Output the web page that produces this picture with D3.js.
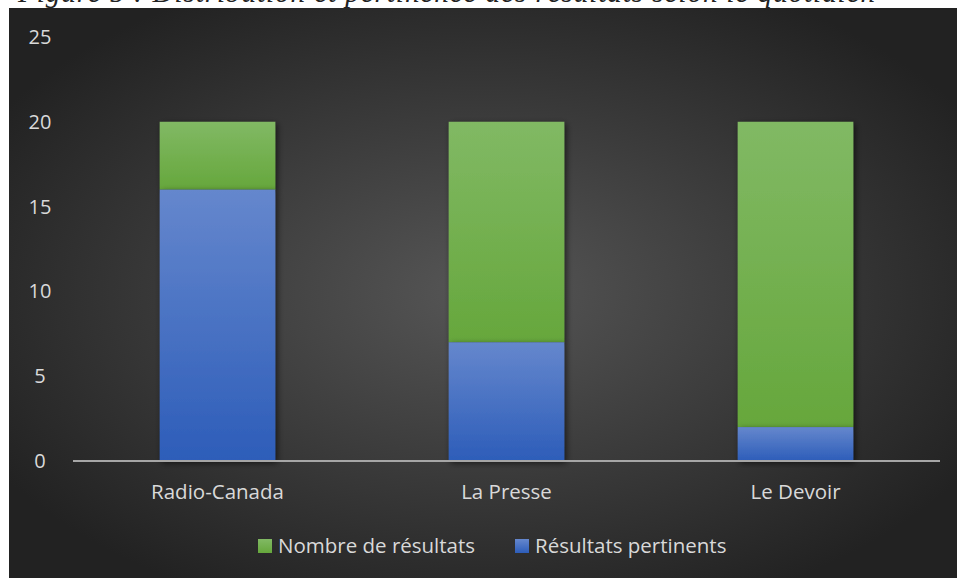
<!DOCTYPE html>
<html>
<head>
<meta charset="utf-8">
<script src="https://cdn.jsdelivr.net/npm/d3@7"></script>
<style>
  body { margin: 0; background: #fff; }
  svg { display: block; }
</style>
</head>
<body>
<div class="canvas"></div>
<script>
const categories = ['Radio-Canada', 'La Presse', 'Le Devoir'];
const pertinents = [16, 7, 2];
const nombre = [20, 20, 20];
const yTicks = [0, 5, 10, 15, 20, 25];
const seriesNames = ['Nombre de résultats', 'Résultats pertinents'];

const W = 957, H = 579;
const bg = {x: 9, y: 8, w: 948, h: 570};
const plot = {left: 73, right: 940, top: 37, bottom: 461};

const svg = d3.select('.canvas')
    .append('svg')
    .attr('width', W)
    .attr('height', H);

const defs = svg.append('defs');

const rg = defs.append('radialGradient')
    .attr('id', 'bg')
    .attr('cx', '50%').attr('cy', '50%').attr('r', '60%');
rg.append('stop').attr('offset', '0%').attr('stop-color', '#565656');
rg.append('stop').attr('offset', '100%').attr('stop-color', '#222');

const grad = (id, top, bottom) => {
    const g = defs.append('linearGradient')
        .attr('id', id)
        .attr('x1', 0).attr('y1', 0).attr('x2', 0).attr('y2', 1);
    g.append('stop').attr('offset', '0%').attr('stop-color', top);
    g.append('stop').attr('offset', '100%').attr('stop-color', bottom);
};
grad('green', '#81b964', '#66a73c');
grad('blue', '#6587cd', '#2d5db9');

const shadow = defs.append('filter')
    .attr('id', 'shadow')
    .attr('x', '-20%').attr('y', '-20%').attr('width', '140%').attr('height', '140%');
shadow.append('feDropShadow')
    .attr('dx', 2).attr('dy', 2).attr('stdDeviation', 3)
    .attr('flood-color', '#000').attr('flood-opacity', 0.6);

// title, only its lower part shows above the chart area
svg.append('text')
    .attr('x', 18)
    .attr('y', 2)
    .attr('font-family', 'Liberation Serif')
    .attr('font-style', 'italic')
    .attr('font-size', 29)
    .attr('fill', '#222')
    .attr('textLength', 857)
    .text('Figure 5 : Distribution et pertinence des résultats selon le quotidien');

svg.append('rect')
    .attr('x', bg.x).attr('y', bg.y)
    .attr('width', bg.w).attr('height', bg.h)
    .attr('fill', 'url(#bg)');

const x = d3.scaleBand()
    .domain(categories)
    .range([plot.left, plot.right])
    .paddingInner(0.6)
    .paddingOuter(0.3);

const y = d3.scaleLinear()
    .domain([0, 25])
    .range([plot.bottom, plot.top]);

const font = "'Open Sans', 'Noto Sans', sans-serif";

// y tick labels
svg.append('g')
    .selectAll('text')
    .data(yTicks)
    .enter()
    .append('text')
    .attr('x', 40)
    .attr('y', d => y(d))
    .attr('dy', '0.35em')
    .attr('text-anchor', 'middle')
    .attr('font-family', font)
    .attr('font-size', 20)
    .attr('fill', '#d9d9d9')
    .text(d => d);

const bars = svg.append('g');

// green: from top of blue to total
bars.selectAll('rect.nb')
    .data(categories)
    .enter()
    .append('rect')
    .attr('class', 'nb')
    .attr('x', d => x(d))
    .attr('width', x.bandwidth())
    .attr('y', (d, i) => y(nombre[i]))
    .attr('height', (d, i) => y(pertinents[i]) - y(nombre[i]))
    .attr('fill', 'url(#green)')
    .attr('filter', 'url(#shadow)');

bars.selectAll('rect.pert')
    .data(categories)
    .enter()
    .append('rect')
    .attr('class', 'pert')
    .attr('x', d => x(d))
    .attr('width', x.bandwidth())
    .attr('y', (d, i) => y(pertinents[i]))
    .attr('height', (d, i) => y(0) - y(pertinents[i]))
    .attr('fill', 'url(#blue)')
    .attr('filter', 'url(#shadow)');

// baseline
svg.append('line')
    .attr('x1', plot.left).attr('x2', plot.right)
    .attr('y1', y(0)).attr('y2', y(0))
    .attr('stroke', '#a6a6a6')
    .attr('stroke-width', 2);

// category labels
svg.append('g')
    .selectAll('text')
    .data(categories)
    .enter()
    .append('text')
    .attr('x', d => x(d) + x.bandwidth() / 2)
    .attr('y', 499)
    .attr('text-anchor', 'middle')
    .attr('font-family', font)
    .attr('font-size', 20.5)
    .attr('fill', '#d9d9d9')
    .text(d => d);

// legend
const legend = svg.append('g');
const legendX = [258, 515];
const legendFill = ['url(#green)', 'url(#blue)'];
seriesNames.forEach((name, i) => {
    legend.append('rect')
        .attr('x', legendX[i]).attr('y', 539)
        .attr('width', 14).attr('height', 14)
        .attr('fill', legendFill[i]);
    legend.append('text')
        .attr('x', legendX[i] + 20)
        .attr('y', 553)
        .attr('font-family', font)
        .attr('font-size', 20.5)
        .attr('fill', '#d9d9d9')
        .text(name);
});
</script>
</body>
</html>
